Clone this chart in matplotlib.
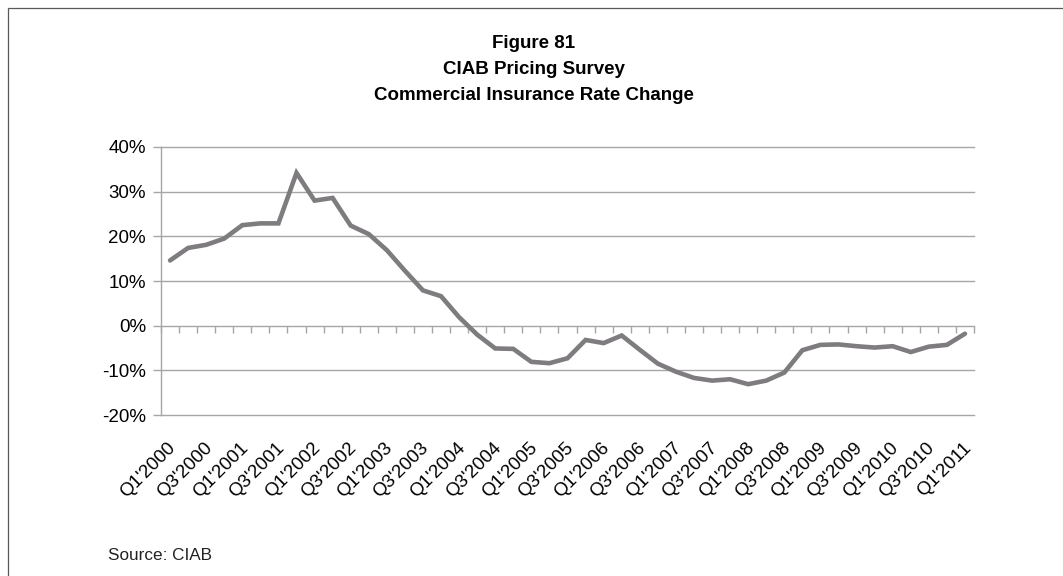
import numpy as np
import matplotlib
matplotlib.use("Agg")
import matplotlib.pyplot as plt
from matplotlib.patches import Rectangle
from matplotlib.ticker import FixedLocator, FuncFormatter

plt.rcParams['font.family'] = ['Liberation Sans', 'DejaVu Sans']

# Quarterly commercial insurance rate change (%), Q1'2000 .. Q1'2011
quarters = [f"Q{q}'{y}" for y in range(2000, 2012) for q in range(1, 5)][:45]
rate_change = [
    14.6, 17.4, 18.1, 19.5, 22.5, 22.9, 22.9, 34.2,
    28.0, 28.6, 22.4, 20.5, 16.9, 12.3, 7.9, 6.6,
    1.9, -2.0, -5.1, -5.2, -8.1, -8.4, -7.3, -3.2,
    -3.9, -2.2, -5.4, -8.5, -10.3, -11.7, -12.3, -12.0,
    -13.1, -12.3, -10.5, -5.5, -4.3, -4.2, -4.6, -4.9,
    -4.6, -5.9, -4.7, -4.3, -1.8,
]
y_ticks = [-20, -10, 0, 10, 20, 30, 40]
title_lines = ["Figure 81", "CIAB Pricing Survey", "Commercial Insurance Rate Change"]
source_note = "Source: CIAB"

W, H, DPI = 1063, 576, 100
fig = plt.figure(figsize=(W / DPI, H / DPI), dpi=DPI)
fig.patch.set_facecolor('white')

# outer frame (only top and left edges fall inside the canvas)
fig.add_artist(Rectangle((7.5 / W, -0.1), 1.2, (H - 7.5) / H + 0.1, transform=fig.transFigure,
                         fill=False, edgecolor='#595959', linewidth=0.9))

ax = fig.add_axes([161 / W, (H - 415) / H, (974 - 161) / W, (415 - 147) / H])
x = np.arange(len(rate_change))
ax.set_xlim(-0.5, len(rate_change) - 0.5)
ax.set_ylim(y_ticks[0], y_ticks[-1])

grid_color = '#a6a6a6'
for v in y_ticks:
    if v != 0:
        ax.axhline(v, color=grid_color, linewidth=1.0, zorder=1, clip_on=False)

ax.plot(x, rate_change, color='#7f7c80', linewidth=3.3, solid_joinstyle='miter',
        solid_capstyle='round', zorder=3)

for side in ['top', 'right']:
    ax.spines[side].set_visible(False)
ax.spines['left'].set_color(grid_color)
ax.spines['left'].set_linewidth(1.0)
ax.spines['bottom'].set_position(('data', 0))
ax.spines['bottom'].set_color(grid_color)
ax.spines['bottom'].set_linewidth(1.0)

ax.yaxis.set_major_locator(FixedLocator(y_ticks))
ax.yaxis.set_major_formatter(FuncFormatter(lambda v, _: f"{v:.0f}%".replace('\u2212', '-')))
ax.tick_params(axis='y', direction='out', length=5.8, width=1.0, color=grid_color,
               labelsize=13.5, pad=5, labelcolor='black')

# category boundary tick marks on the zero line
ax.xaxis.set_major_locator(FixedLocator(np.arange(-0.5, len(rate_change))))
ax.tick_params(axis='x', direction='out', length=5.2, width=1.0, color=grid_color,
               labelbottom=False)

# category labels for every other quarter along the bottom
for i in range(0, len(quarters), 2):
    ax.text(i - 0.15, -0.09, quarters[i], transform=ax.get_xaxis_transform(),
            rotation=45, rotation_mode='anchor', ha='right', va='top',
            fontsize=13.5, color='black')

title_y = [H - 43, H - 69, H - 95]
for line, yy in zip(title_lines, title_y):
    fig.text(534 / W, yy / H, line, ha='center', va='center', fontsize=13.5,
             fontweight='bold', color='black')

fig.text(108 / W, (H - 555) / H, source_note, ha='left', va='center', fontsize=12.3,
         color='#222222')

fig.savefig('out.png', dpi=DPI, facecolor='white')
